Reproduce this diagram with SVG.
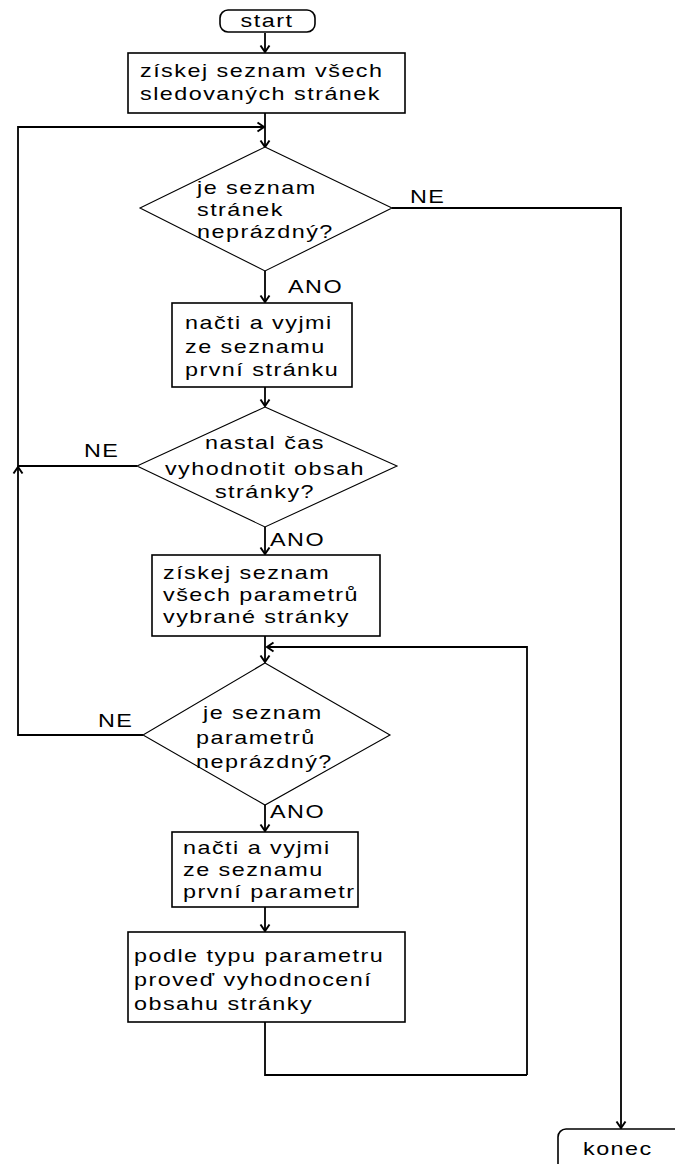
<svg xmlns="http://www.w3.org/2000/svg" width="675" height="1164" viewBox="0 0 675 1164">
<style>
.t{font-family:"Liberation Sans",Arial,sans-serif;font-size:19px;letter-spacing:1.2px;fill:#000}
.c{text-anchor:middle}
.box{fill:#fff;stroke:#000;stroke-width:1.6}
.dia{fill:#fff;stroke:#000;stroke-width:1.1}
.ln{fill:none;stroke:#000;stroke-width:1.8}
</style>
<defs>
<marker id="ah" markerWidth="12" markerHeight="12" refX="10" refY="6" orient="auto" markerUnits="userSpaceOnUse">
<path d="M3.5,1.5 L10,6 L3.5,10.5" fill="none" stroke="#000" stroke-width="2"/>
</marker>
</defs>
<rect width="675" height="1164" fill="#fff"/>
<g id="connectors">
<path class="ln" d="M265,33 V52" marker-end="url(#ah)"/>
<path class="ln" d="M265,113 V147" marker-end="url(#ah)"/>
<path class="ln" d="M392,208 H621 V1128" marker-end="url(#ah)"/>
<path class="ln" d="M265,271 V302" marker-end="url(#ah)"/>
<path class="ln" d="M265,387 V406" marker-end="url(#ah)"/>
<path class="ln" d="M137,466 H18 V127 H264" marker-end="url(#ah)"/>
<path class="ln" d="M265,527 V554" marker-end="url(#ah)"/>
<path class="ln" d="M265,636 V662" marker-end="url(#ah)"/>
<path class="ln" d="M527,1075 V647 H267" marker-end="url(#ah)"/>
<path class="ln" d="M143,735 H18 V467" marker-end="url(#ah)"/>
<path class="ln" d="M265,805 V831" marker-end="url(#ah)"/>
<path class="ln" d="M265,907 V931" marker-end="url(#ah)"/>
<path class="ln" d="M265,1022 V1075 H527"/>
<text class="t" transform="matrix(1.23 0 0 1 410 203)">NE</text>
<text class="t" transform="matrix(1.23 0 0 1 288 293)">ANO</text>
<text class="t" transform="matrix(1.23 0 0 1 84 457)">NE</text>
<text class="t" transform="matrix(1.23 0 0 1 270 546)">ANO</text>
<text class="t" transform="matrix(1.23 0 0 1 98 727)">NE</text>
<text class="t" transform="matrix(1.23 0 0 1 270 818)">ANO</text>
</g>
<g id="start">
<rect class="box" x="220" y="10" width="95" height="22" rx="8"/>
<text class="t c" transform="matrix(1.23 0 0 1 267 27)">start</text>
</g>
<g id="box1">
<rect class="box" x="128" y="53" width="277" height="60"/>
<text class="t" transform="matrix(1.23 0 0 1 140 77)">získej seznam všech</text>
<text class="t" transform="matrix(1.23 0 0 1 140 100)">sledovaných stránek</text>
</g>
<g id="dec1">
<polygon class="dia" points="265,147 392,208 265,271 140,208"/>
<text class="t" transform="matrix(1.23 0 0 1 197 194)">je seznam</text>
<text class="t" transform="matrix(1.23 0 0 1 197 216)">stránek</text>
<text class="t" transform="matrix(1.23 0 0 1 197 238)">neprázdný?</text>
</g>
<g id="box2">
<rect class="box" x="172" y="303" width="180" height="84"/>
<text class="t" transform="matrix(1.23 0 0 1 185 329)">načti a vyjmi</text>
<text class="t" transform="matrix(1.23 0 0 1 185 353)">ze seznamu</text>
<text class="t" transform="matrix(1.23 0 0 1 185 376)">první stránku</text>
</g>
<g id="dec2">
<polygon class="dia" points="265,407 397,466 265,527 137,466"/>
<text class="t c" transform="matrix(1.23 0 0 1 265 449)">nastal čas</text>
<text class="t c" transform="matrix(1.23 0 0 1 265 475)">vyhodnotit obsah</text>
<text class="t c" transform="matrix(1.23 0 0 1 265 498)">stránky?</text>
</g>
<g id="box3">
<rect class="box" x="152" y="555" width="228" height="81"/>
<text class="t" transform="matrix(1.23 0 0 1 163 579)">získej seznam</text>
<text class="t" transform="matrix(1.23 0 0 1 163 601)">všech parametrů</text>
<text class="t" transform="matrix(1.23 0 0 1 163 623)">vybrané stránky</text>
</g>
<g id="dec3">
<polygon class="dia" points="265,663 390,735 265,805 143,735"/>
<text class="t" transform="matrix(1.23 0 0 1 203 719)">je seznam</text>
<text class="t" transform="matrix(1.23 0 0 1 196 744)">parametrů</text>
<text class="t" transform="matrix(1.23 0 0 1 196 768)">neprázdný?</text>
</g>
<g id="box4">
<rect class="box" x="172" y="832" width="186" height="75"/>
<text class="t" transform="matrix(1.23 0 0 1 183 854)">načti a vyjmi</text>
<text class="t" transform="matrix(1.23 0 0 1 183 876)">ze seznamu</text>
<text class="t" transform="matrix(1.23 0 0 1 183 898)">první parametr</text>
</g>
<g id="box5">
<rect class="box" x="128" y="932" width="277" height="90"/>
<text class="t" transform="matrix(1.23 0 0 1 134 962)">podle typu parametru</text>
<text class="t" transform="matrix(1.23 0 0 1 134 986)">proveď vyhodnocení</text>
<text class="t" transform="matrix(1.23 0 0 1 134 1010)">obsahu stránky</text>
</g>
<g id="konec">
<rect class="box" x="558" y="1129" width="150" height="60" rx="8"/>
<text class="t" transform="matrix(1.23 0 0 1 583 1155)">konec</text>
</g>
</svg>
